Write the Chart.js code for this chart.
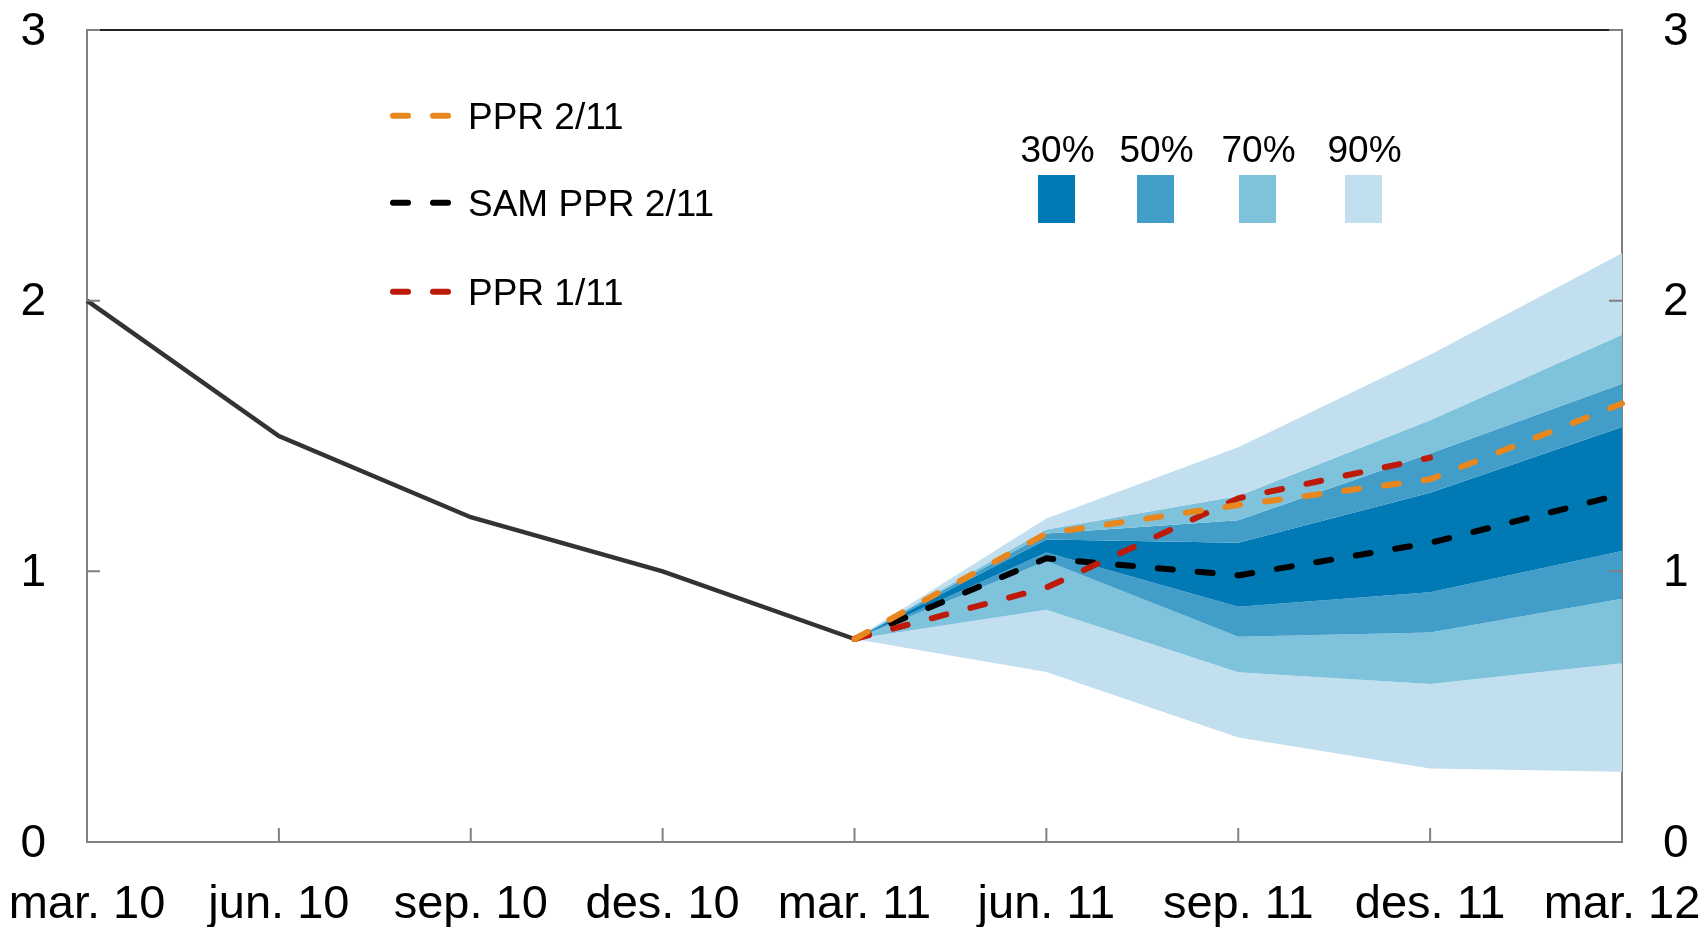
<!DOCTYPE html>
<html>
<head>
<meta charset="utf-8">
<script src="https://cdn.jsdelivr.net/npm/chart.js@4/dist/chart.umd.min.js"></script>
<style>
  html, body { margin: 0; padding: 0; background: #fff; }
  #wrap { width: 1707px; height: 927px; }
</style>
</head>
<body>
<div id="wrap"><canvas id="grafico" width="1707" height="927"></canvas></div>
<script>
// Kvartaler på x-aksen
const kvartaler = ['mar. 10', 'jun. 10', 'sep. 10', 'des. 10', 'mar. 11', 'jun. 11', 'sep. 11', 'des. 11', 'mar. 12'];
const yTicks = [0, 1, 2, 3];

// Historisk utvikling (heltrukket)
const historikk = [2.0, 1.5, 1.2, 1.0, 0.75, null, null, null, null];
// Prognoser (stiplet)
const ppr211 = [null, null, null, null, 0.75, 1.14, 1.245, 1.34, 1.62];
const samPpr211 = [null, null, null, null, 0.75, 1.048, 0.985, 1.105, 1.285];
const ppr111 = [null, null, null, null, 0.75, 0.94, 1.27, 1.42, null];

// Usikkerhetsvifte, øvre og nedre grenser
const p90hoy = [null, null, null, null, 0.75, 1.195, 1.458, 1.80, 2.175];
const p70hoy = [null, null, null, null, 0.75, 1.155, 1.278, 1.558, 1.874];
const p50hoy = [null, null, null, null, 0.75, 1.14, 1.189, 1.435, 1.693];
const p30hoy = [null, null, null, null, 0.75, 1.118, 1.106, 1.29, 1.533];
const p30lav = [null, null, null, null, 0.75, 1.07, 0.869, 0.923, 1.075];
const p50lav = [null, null, null, null, 0.75, 1.038, 0.758, 0.774, 0.899];
const p70lav = [null, null, null, null, 0.75, 0.858, 0.627, 0.584, 0.66];
const p90lav = [null, null, null, null, 0.75, 0.628, 0.386, 0.272, 0.26];

const bandLabels = ['30%', '50%', '70%', '90%'];
const bandFarger = ['#0079B5', '#429DC9', '#7FC2DB', '#C1DFEE'];

const grid = { display: false, drawTicks: false };
const akseFarge = '#808080';
const font = '"Liberation Sans", Arial, sans-serif';

function linje(label, data, farge, order) {
	return {
		label: label, data: data, borderColor: farge, borderWidth: 6,
		borderDash: [15, 25], borderCapStyle: 'round', pointRadius: 0,
		fill: false, order: order, legendLine: true
	};
}
function band(data, farge) {
	return {
		data: data, borderWidth: 0, pointRadius: 0, backgroundColor: farge,
		fill: farge ? '+1' : false, order: 10
	};
}

// Små streker inn i plottet for hver tick
const innerTicks = {
	id: 'innerTicks',
	afterDatasetsDraw(chart) {
		const { ctx, chartArea, scales } = chart;
		ctx.save();
		ctx.strokeStyle = akseFarge;
		ctx.lineWidth = 2;
		ctx.beginPath();
		scales.x.ticks.forEach((t, i) => {
			const px = scales.x.getPixelForTick(i);
			ctx.moveTo(px, chartArea.bottom);
			ctx.lineTo(px, chartArea.bottom - 14);
		});
		scales.y.ticks.forEach((t, i) => {
			const py = scales.y.getPixelForTick(i);
			ctx.moveTo(chartArea.left, py);
			ctx.lineTo(chartArea.left + 13, py);
		});
		scales.y2.ticks.forEach((t, i) => {
			const py = scales.y2.getPixelForTick(i);
			ctx.moveTo(chartArea.right, py);
			ctx.lineTo(chartArea.right - 13, py);
		});
		ctx.stroke();
		ctx.restore();
	}
};

// Tegnforklaring: stiplede linjer til venstre, fargebokser til høyre
const forklaring = {
	id: 'forklaring',
	afterDraw(chart) {
		const ctx = chart.ctx;
		ctx.save();
		ctx.font = '37px ' + font;
		ctx.fillStyle = '#000';
		const linjeY = [115.7, 202.7, 291.7];
		const linjer = chart.data.datasets.filter(d => d.legendLine);
		linjer.forEach((d, i) => {
			const y = linjeY[i];
			ctx.strokeStyle = d.borderColor;
			ctx.lineWidth = d.borderWidth;
			ctx.lineCap = 'round';
			ctx.setLineDash(d.borderDash);
			ctx.beginPath();
			ctx.moveTo(393, y);
			ctx.lineTo(450, y);
			ctx.stroke();
			ctx.textAlign = 'left';
			ctx.textBaseline = 'alphabetic';
			ctx.fillText(d.label, 468, y + 13);
		});
		ctx.setLineDash([]);
		const boksX = [1038, 1137, 1239, 1345];
		bandLabels.forEach((l, i) => {
			ctx.fillStyle = bandFarger[i];
			ctx.fillRect(boksX[i], 175, 37, 48);
			ctx.fillStyle = '#000';
			ctx.textAlign = 'center';
			ctx.fillText(l, boksX[i] + 19.5, 162);
		});
		ctx.restore();
	}
};

const datasets = [
	linje('PPR 2/11', ppr211, '#E8871E', 1),
	linje('SAM PPR 2/11', samPpr211, '#000000', 3),
	linje('PPR 1/11', ppr111, '#BE1A0A', 2),
	{ data: historikk, borderColor: '#333333', borderWidth: 4.5, pointRadius: 0, fill: false, order: 4 },
	band(p90hoy, bandFarger[3]),
	band(p70hoy, bandFarger[2]),
	band(p50hoy, bandFarger[1]),
	band(p30hoy, bandFarger[0]),
	band(p30lav, bandFarger[1]),
	band(p50lav, bandFarger[2]),
	band(p70lav, bandFarger[3]),
	band(p90lav, null)
];

const yAkse = (pos, bredde, pad) => ({
	position: pos,
	min: yTicks[0],
	max: yTicks[yTicks.length - 1],
	grid: grid,
	border: { color: akseFarge, width: 2 },
	ticks: {
		stepSize: 1, padding: pad, color: '#000', labelOffset: 2,
		font: { family: font, size: 46 }
	},
	afterFit: s => { s.width = bredde; s.paddingTop = 0; s.paddingBottom = 0; }
});

new Chart(document.getElementById('grafico').getContext('2d'), {
	type: 'line',
	data: { labels: kvartaler, datasets: datasets },
	options: {
		responsive: false,
		animation: false,
		devicePixelRatio: 1,
		layout: { padding: { top: 30, left: 0, right: 0, bottom: 0 } },
		plugins: { legend: { display: false }, tooltip: { enabled: false } },
		elements: { line: { tension: 0 } },
		scales: {
			x: {
				offset: false,
				grid: grid,
				border: { color: akseFarge, width: 2 },
				ticks: {
					autoSkip: false, maxRotation: 0, padding: 35, color: '#000',
					font: { family: font, size: 47 }
				},
				afterFit: s => { s.height = 85; s.paddingLeft = 0; s.paddingRight = 0; }
			},
			x2: {
				position: 'top',
				grid: grid,
				border: { color: '#222222', width: 2 },
				ticks: { display: false },
				afterFit: s => { s.height = 0; s.paddingLeft = 0; s.paddingRight = 0; }
			},
			y: yAkse('left', 87, 41),
			y2: yAkse('right', 85, 41)
		}
	},
	plugins: [innerTicks, forklaring]
});
</script>
</body>
</html>
